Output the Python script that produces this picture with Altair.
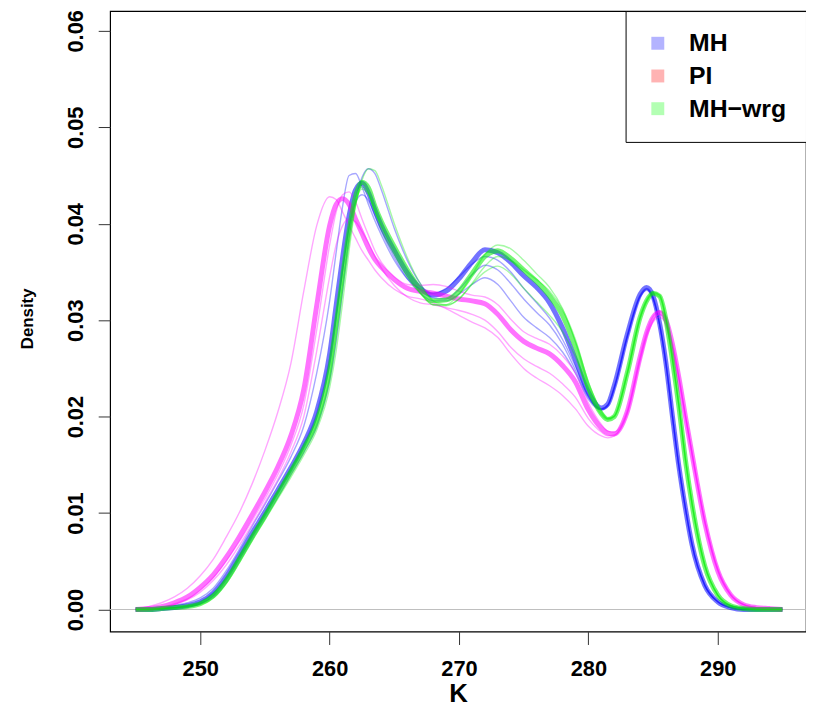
import altair as alt
import pandas as pd

# ---------------- data ----------------
K = [245, 246, 247, 248, 249, 250, 251, 252, 253, 254,
     255, 256, 257, 258, 259, 260, 260.5, 261, 261.5, 262,
     262.5, 263, 263.5, 264, 265, 266, 267, 268, 269, 270,
     271, 272, 273, 274, 275, 276, 277, 278, 279, 280,
     281, 281.5, 282, 283, 284, 284.5, 285, 285.5, 286, 286.5,
     287, 287.5, 288, 289, 290, 291, 292, 293, 294, 295]

MH_core = [0.0000, 0.0000, 0.0001, 0.0002, 0.0004, 0.0008, 0.0017, 0.0034, 0.0056, 0.0079,
           0.0101, 0.0124, 0.0147, 0.0172, 0.0205, 0.0265, 0.0315, 0.0365, 0.0408, 0.0435,
           0.0442, 0.0432, 0.0414, 0.0398, 0.0372, 0.0349, 0.0333, 0.0326, 0.0330, 0.0343,
           0.0360, 0.0373, 0.0370, 0.0360, 0.0346, 0.0334, 0.0318, 0.0292, 0.0259, 0.0225,
           0.0209, 0.0213, 0.0232, 0.0285, 0.0327, 0.0334, 0.0325, 0.0297, 0.0255, 0.0200,
           0.0148, 0.0105, 0.0068, 0.0025, 0.0008, 0.0002, 0.0000, 0.0000, 0.0000, 0.0000]
MH_v1 = [0.0000, 0.0000, 0.0001, 0.0002, 0.0003, 0.0006, 0.0013, 0.0028, 0.0050, 0.0073,
         0.0095, 0.0117, 0.0140, 0.0163, 0.0190, 0.0237, 0.0278, 0.0330, 0.0385, 0.0425,
         0.0448, 0.0457, 0.0452, 0.0435, 0.0395, 0.0362, 0.0338, 0.0323, 0.0322, 0.0332,
         0.0347, 0.0357, 0.0352, 0.0338, 0.0322, 0.0308, 0.0295, 0.0275, 0.0248, 0.0220,
         0.0208, 0.0212, 0.0230, 0.0283, 0.0325, 0.0332, 0.0323, 0.0296, 0.0254, 0.0200,
         0.0148, 0.0105, 0.0068, 0.0025, 0.0008, 0.0002, 0.0000, 0.0000, 0.0000, 0.0000]
MH_v2 = [0.0000, 0.0001, 0.0002, 0.0004, 0.0007, 0.0012, 0.0022, 0.0040, 0.0062, 0.0086,
         0.0109, 0.0133, 0.0158, 0.0190, 0.0245, 0.0320, 0.0370, 0.0418, 0.0450, 0.0452,
         0.0438, 0.0420, 0.0403, 0.0388, 0.0362, 0.0343, 0.0332, 0.0328, 0.0333, 0.0345,
         0.0358, 0.0366, 0.0362, 0.0350, 0.0333, 0.0318, 0.0302, 0.0280, 0.0252, 0.0222,
         0.0208, 0.0212, 0.0231, 0.0284, 0.0326, 0.0333, 0.0324, 0.0296, 0.0255, 0.0200,
         0.0148, 0.0105, 0.0068, 0.0025, 0.0008, 0.0002, 0.0000, 0.0000, 0.0000, 0.0000]
MH_v3 = [0.0000, 0.0000, 0.0001, 0.0002, 0.0004, 0.0008, 0.0017, 0.0033, 0.0055, 0.0078,
         0.0100, 0.0123, 0.0146, 0.0171, 0.0203, 0.0260, 0.0305, 0.0352, 0.0395, 0.0422,
         0.0430, 0.0424, 0.0408, 0.0392, 0.0365, 0.0343, 0.0328, 0.0320, 0.0320, 0.0327,
         0.0337, 0.0344, 0.0337, 0.0320, 0.0303, 0.0292, 0.0282, 0.0267, 0.0245, 0.0218,
         0.0207, 0.0211, 0.0229, 0.0282, 0.0324, 0.0331, 0.0322, 0.0296, 0.0255, 0.0200,
         0.0148, 0.0105, 0.0068, 0.0025, 0.0008, 0.0002, 0.0000, 0.0000, 0.0000, 0.0000]

PI_core = [0.0000, 0.0001, 0.0003, 0.0007, 0.0013, 0.0023, 0.0036, 0.0054, 0.0075, 0.0098,
           0.0122, 0.0148, 0.0180, 0.0228, 0.0315, 0.0398, 0.0420, 0.0426, 0.0420, 0.0405,
           0.0390, 0.0375, 0.0363, 0.0355, 0.0342, 0.0333, 0.0330, 0.0328, 0.0325, 0.0322,
           0.0320, 0.0317, 0.0306, 0.0290, 0.0278, 0.0271, 0.0265, 0.0253, 0.0236, 0.0207,
           0.0188, 0.0183, 0.0182, 0.0205, 0.0262, 0.0287, 0.0303, 0.0308, 0.0300, 0.0275,
           0.0240, 0.0200, 0.0162, 0.0090, 0.0040, 0.0015, 0.0005, 0.0002, 0.0001, 0.0000]
PI_v1 = [0.0001, 0.0003, 0.0007, 0.0013, 0.0022, 0.0035, 0.0052, 0.0075, 0.0100, 0.0130,
         0.0165, 0.0205, 0.0255, 0.0330, 0.0398, 0.0428, 0.0425, 0.0412, 0.0398, 0.0385,
         0.0372, 0.0362, 0.0352, 0.0344, 0.0332, 0.0325, 0.0322, 0.0318, 0.0312, 0.0305,
         0.0298, 0.0292, 0.0282, 0.0265, 0.0250, 0.0240, 0.0232, 0.0222, 0.0208, 0.0190,
         0.0180, 0.0178, 0.0180, 0.0203, 0.0258, 0.0283, 0.0298, 0.0303, 0.0296, 0.0272,
         0.0238, 0.0200, 0.0163, 0.0092, 0.0042, 0.0016, 0.0005, 0.0002, 0.0001, 0.0000]
PI_v2 = [0.0000, 0.0001, 0.0002, 0.0005, 0.0010, 0.0018, 0.0030, 0.0046, 0.0066, 0.0088,
         0.0111, 0.0135, 0.0163, 0.0200, 0.0268, 0.0345, 0.0378, 0.0398, 0.0405, 0.0402,
         0.0392, 0.0380, 0.0366, 0.0354, 0.0336, 0.0324, 0.0318, 0.0316, 0.0313, 0.0310,
         0.0306, 0.0300, 0.0288, 0.0272, 0.0260, 0.0252, 0.0245, 0.0234, 0.0220, 0.0198,
         0.0184, 0.0180, 0.0181, 0.0204, 0.0260, 0.0285, 0.0300, 0.0306, 0.0299, 0.0275,
         0.0240, 0.0201, 0.0163, 0.0091, 0.0041, 0.0015, 0.0005, 0.0002, 0.0001, 0.0000]
PI_v3 = [0.0000, 0.0001, 0.0002, 0.0006, 0.0011, 0.0020, 0.0033, 0.0050, 0.0070, 0.0092,
         0.0115, 0.0140, 0.0170, 0.0212, 0.0290, 0.0378, 0.0412, 0.0430, 0.0433, 0.0423,
         0.0405, 0.0388, 0.0372, 0.0360, 0.0345, 0.0337, 0.0336, 0.0337, 0.0335, 0.0330,
         0.0326, 0.0324, 0.0316, 0.0301, 0.0288, 0.0281, 0.0275, 0.0263, 0.0245, 0.0214,
         0.0192, 0.0185, 0.0184, 0.0206, 0.0263, 0.0288, 0.0304, 0.0309, 0.0301, 0.0276,
         0.0241, 0.0201, 0.0162, 0.0090, 0.0040, 0.0015, 0.0005, 0.0002, 0.0001, 0.0000]

MHW_core = [0.0000, 0.0000, 0.0001, 0.0002, 0.0003, 0.0006, 0.0014, 0.0030, 0.0052, 0.0075,
            0.0097, 0.0120, 0.0143, 0.0167, 0.0195, 0.0248, 0.0295, 0.0345, 0.0392, 0.0428,
            0.0443, 0.0437, 0.0418, 0.0402, 0.0376, 0.0352, 0.0332, 0.0320, 0.0321, 0.0330,
            0.0348, 0.0366, 0.0372, 0.0364, 0.0352, 0.0340, 0.0325, 0.0305, 0.0272, 0.0230,
            0.0203, 0.0197, 0.0200, 0.0245, 0.0303, 0.0320, 0.0328, 0.0325, 0.0300, 0.0258,
            0.0210, 0.0155, 0.0110, 0.0045, 0.0015, 0.0004, 0.0001, 0.0000, 0.0000, 0.0000]
MHW_v1 = [0.0000, 0.0000, 0.0001, 0.0001, 0.0003, 0.0005, 0.0012, 0.0027, 0.0048, 0.0071,
          0.0093, 0.0115, 0.0137, 0.0160, 0.0186, 0.0230, 0.0268, 0.0318, 0.0372, 0.0418,
          0.0445, 0.0457, 0.0455, 0.0440, 0.0400, 0.0365, 0.0338, 0.0320, 0.0316, 0.0322,
          0.0338, 0.0356, 0.0366, 0.0362, 0.0352, 0.0342, 0.0330, 0.0311, 0.0280, 0.0236,
          0.0206, 0.0198, 0.0200, 0.0244, 0.0302, 0.0320, 0.0328, 0.0326, 0.0302, 0.0260,
          0.0212, 0.0157, 0.0111, 0.0046, 0.0015, 0.0004, 0.0001, 0.0000, 0.0000, 0.0000]
MHW_v2 = [0.0000, 0.0000, 0.0001, 0.0002, 0.0003, 0.0006, 0.0014, 0.0030, 0.0052, 0.0075,
          0.0097, 0.0120, 0.0143, 0.0166, 0.0193, 0.0242, 0.0288, 0.0338, 0.0387, 0.0422,
          0.0436, 0.0430, 0.0412, 0.0394, 0.0368, 0.0345, 0.0328, 0.0316, 0.0316, 0.0327,
          0.0347, 0.0368, 0.0378, 0.0374, 0.0362, 0.0348, 0.0334, 0.0312, 0.0277, 0.0232,
          0.0204, 0.0198, 0.0201, 0.0246, 0.0304, 0.0321, 0.0329, 0.0326, 0.0301, 0.0259,
          0.0211, 0.0156, 0.0111, 0.0046, 0.0015, 0.0004, 0.0001, 0.0000, 0.0000, 0.0000]
MHW_v3 = [0.0000, 0.0000, 0.0001, 0.0002, 0.0004, 0.0007, 0.0016, 0.0032, 0.0054, 0.0077,
          0.0099, 0.0122, 0.0145, 0.0169, 0.0198, 0.0254, 0.0303, 0.0352, 0.0396, 0.0426,
          0.0438, 0.0432, 0.0415, 0.0398, 0.0370, 0.0346, 0.0328, 0.0316, 0.0315, 0.0322,
          0.0337, 0.0350, 0.0356, 0.0348, 0.0333, 0.0319, 0.0305, 0.0288, 0.0262, 0.0226,
          0.0202, 0.0197, 0.0200, 0.0244, 0.0302, 0.0319, 0.0327, 0.0324, 0.0300, 0.0258,
          0.0210, 0.0155, 0.0110, 0.0045, 0.0015, 0.0004, 0.0001, 0.0000, 0.0000, 0.0000]

GROUPS = ["MH", "PI", "MH\u2212wrg"]
LINE_COLORS = ["#0000ff", "#ff00ff", "#00ee00"]
LEGEND_COLORS = ["#b3b3ff", "#ffb3b3", "#b3ffb3"]
X_TICKS = [250, 260, 270, 280, 290]
Y_TICKS = [0.0, 0.01, 0.02, 0.03, 0.04, 0.05, 0.06]

curves = [
    ("MH", "v1", MH_v1), ("MH", "v2", MH_v2), ("MH", "v3", MH_v3), ("MH", "core", MH_core),
    ("PI", "v1", PI_v1), ("PI", "v2", PI_v2), ("PI", "v3", PI_v3), ("PI", "core", PI_core),
    ("MH\u2212wrg", "v1", MHW_v1), ("MH\u2212wrg", "v2", MHW_v2), ("MH\u2212wrg", "v3", MHW_v3),
    ("MH\u2212wrg", "core", MHW_core),
]

rows = []
for grp, cid, vals in curves:
    assert len(vals) == len(K), (grp, cid, len(vals))
    for k, d in zip(K, vals):
        rows.append({"K": k, "D": d, "grp": grp, "curve": grp + "_" + cid,
                     "kind": "core" if cid == "core" else "thin"})
df = pd.DataFrame(rows)

FONT = "Liberation Sans"

xs = alt.Scale(domain=[243.03, 296.82], nice=False, zero=False)
ys = alt.Scale(domain=[-0.00229, 0.06205], nice=False, zero=False)

x_axis = alt.Axis(values=X_TICKS, format="d", title="K", grid=False, domain=False,
                  tickSize=13, tickColor="#333333", tickWidth=1,
                  labelFont=FONT, labelFontSize=22, labelFontWeight="bold", labelColor="black",
                  labelPadding=14, labelFlush=False, labelOverlap=False,
                  titleFont=FONT, titleFontSize=26, titleFontWeight="bold", titleColor="black",
                  titleX=351, titleY=71, titleAlign="center", titleBaseline="alphabetic")
y_axis = alt.Axis(values=Y_TICKS, format=".2f", title="Density", grid=False, domain=False,
                  tickSize=12, tickColor="#333333", tickWidth=1,
                  labelFont=FONT, labelFontSize=22, labelFontWeight="bold", labelColor="black",
                  labelAngle=270, labelAlign="center", labelBaseline="alphabetic",
                  labelPadding=16, labelFlush=False, labelOverlap=False,
                  titleFont=FONT, titleFontSize=17, titleFontWeight="bold", titleColor="black",
                  titleAngle=270, titleX=-78, titleY=310, titleAlign="center",
                  titleBaseline="alphabetic")

zero_line = alt.Chart(pd.DataFrame({"D": [0.0]})).mark_rule(
    color="#bebebe", strokeWidth=1).encode(y=alt.Y("D:Q", scale=ys, axis=y_axis))

# per-group line colour (set directly on the mark, so no stroke scale/legend is involved)
COLOR_OF = dict(zip(GROUPS, LINE_COLORS))


def lines(grp, kind, width, opacity):
    return alt.Chart(df).transform_filter(
        (alt.datum.grp == grp) & (alt.datum.kind == kind)
    ).mark_line(interpolate="monotone", strokeWidth=width, opacity=opacity,
                color=COLOR_OF[grp]).encode(
        x=alt.X("K:Q", scale=xs, axis=x_axis),
        y=alt.Y("D:Q", scale=ys, axis=y_axis),
        detail="curve:N",
        order="K:Q",
    )


layers = [zero_line]
for g in GROUPS:
    layers.append(lines(g, "thin", 1.4, 0.35))
    layers.append(lines(g, "core", 5.0, 0.55))

# legend layer: invisible squares; the legend comes from this layer's colour scale
legend_df = pd.DataFrame({"series": GROUPS, "K": [270.0, 270.0, 270.0], "D": [0.0, 0.0, 0.0]})
legend_layer = alt.Chart(legend_df).mark_square(size=0, opacity=0).encode(
    x=alt.X("K:Q", scale=xs, axis=x_axis),
    y=alt.Y("D:Q", scale=ys, axis=y_axis),
    color=alt.Color("series:N", scale=alt.Scale(domain=GROUPS, range=LEGEND_COLORS),
                    sort=GROUPS,
                    legend=alt.Legend(title=None, orient="top-right", offset=0,
                                      padding=20, strokeColor="black", fillColor="white",
                                      labelFont=FONT, labelFontSize=25, labelFontWeight="bold",
                                      labelColor="black", labelOffset=19,
                                      symbolType="square", symbolSize=170, symbolOpacity=1,
                                      symbolStrokeWidth=0, rowPadding=7, labelLimit=300)),
)
layers.append(legend_layer)

chart = alt.layer(*layers).properties(
    width=702, height=626,
    autosize=alt.AutoSizeParams(type="none"),
    padding={"left": 103, "top": 0, "right": 0, "bottom": 74},
).configure_view(stroke="black", strokeWidth=1.2)

chart.save("out.html", embed_options={"renderer": "svg", "actions": False})
